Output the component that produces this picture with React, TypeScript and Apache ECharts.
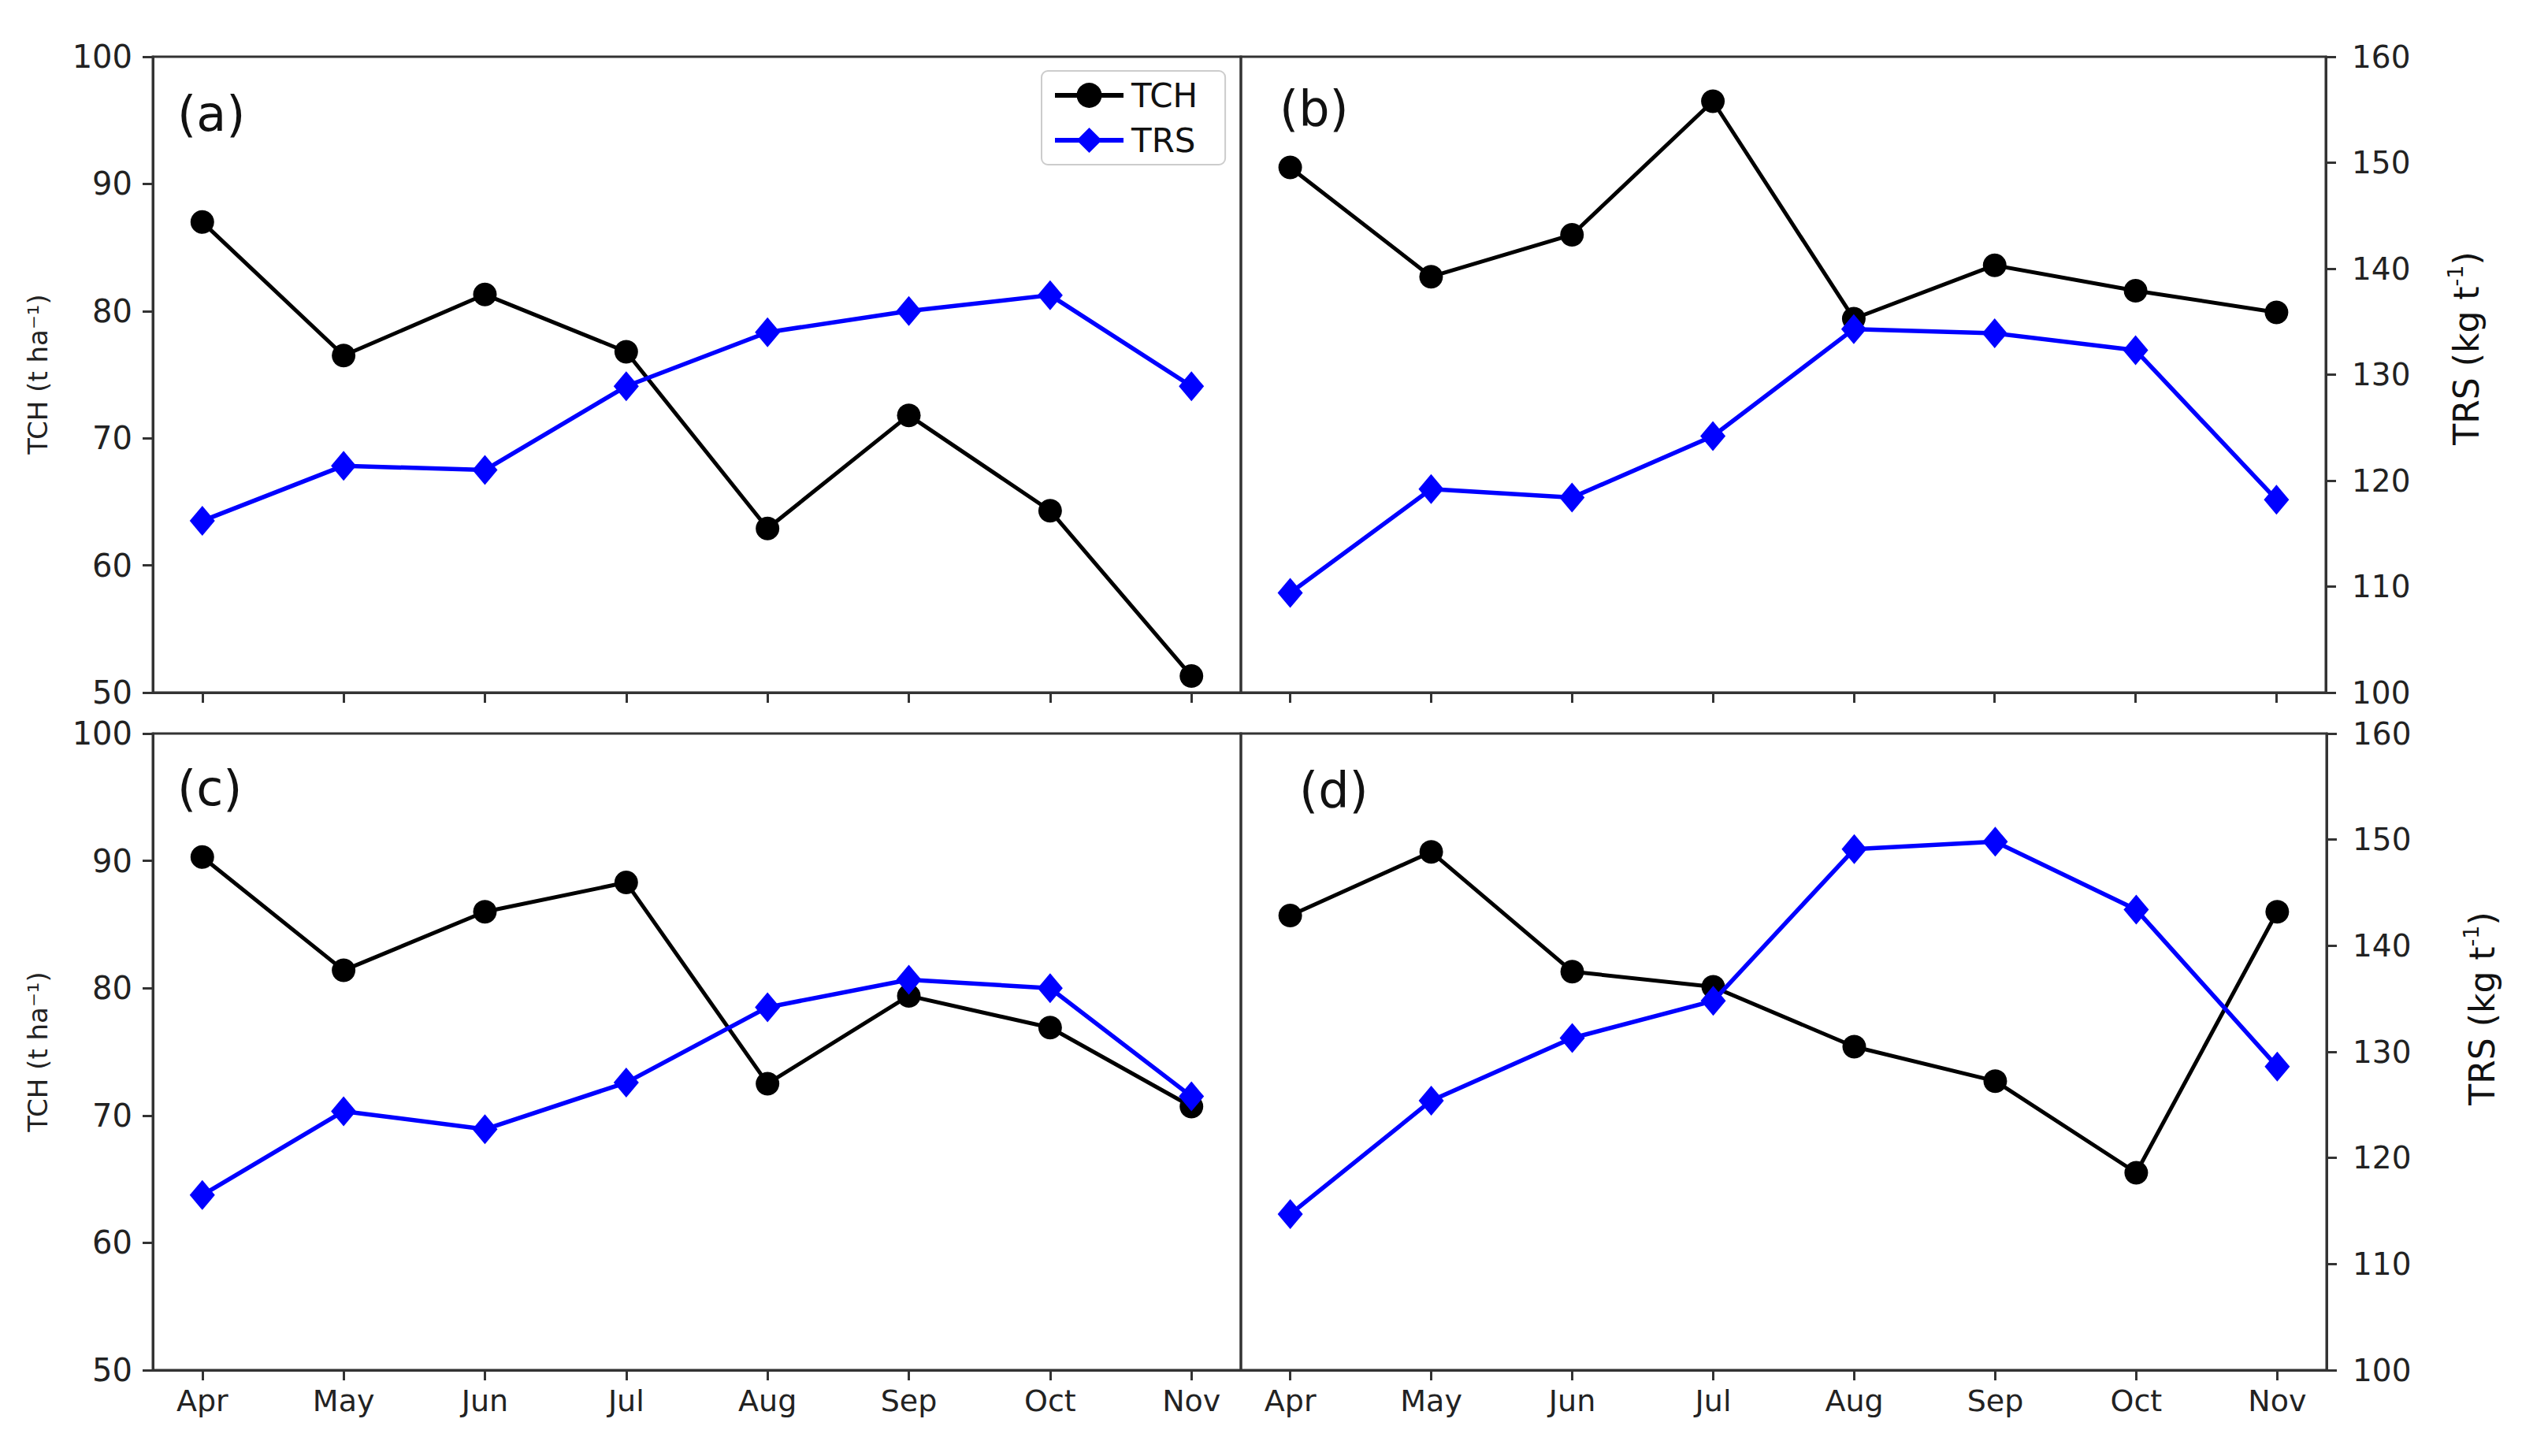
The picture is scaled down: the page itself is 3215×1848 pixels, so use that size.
import React, { useEffect, useRef } from "react";
import * as echarts from "echarts";

// ---- data ----
const months = ["Apr", "May", "Jun", "Jul", "Aug", "Sep", "Oct", "Nov"];
const tchA = [87.0, 76.5, 81.3, 76.8, 62.9, 71.8, 64.3, 51.3];
const trsA = [116.2, 121.4, 121.0, 128.9, 134.0, 136.0, 137.5, 128.9];
const tchB = [91.3, 82.7, 86.0, 96.5, 79.4, 83.6, 81.6, 79.9];
const trsB = [109.4, 119.2, 118.4, 124.2, 134.3, 133.9, 132.3, 118.2];
const tchC = [90.3, 81.4, 86.0, 88.3, 72.5, 79.4, 76.9, 70.7];
const trsC = [116.5, 124.4, 122.7, 127.1, 134.2, 136.8, 136.0, 125.8];
const tchD = [85.7, 90.7, 81.3, 80.1, 75.4, 72.7, 65.5, 86.0];
const trsD = [114.7, 125.4, 131.3, 134.8, 149.1, 149.8, 143.4, 128.6];
const panelLabels = ["(a)", "(b)", "(c)", "(d)"];
const seriesNames = ["TCH", "TRS"];
const tchRange = [50, 100];
const trsRange = [100, 160];

const FONT = "'DejaVu Sans', 'Noto Sans', sans-serif";
const AXIS = "#333";
const TXT = "#222";

const grids = [
  { left: 194, top: 72, width: 1381, height: 807 },
  { left: 1575, top: 72, width: 1377, height: 807 },
  { left: 194, top: 931, width: 1381, height: 808 },
  { left: 1575, top: 931, width: 1378, height: 808 },
];
const labelPos = [
  [225, 144],
  [1624, 137],
  [225, 1000],
  [1649, 1002],
];

const idx = months.map((_, i) => i);
const panels = [
  [tchA, trsA],
  [tchB, trsB],
  [tchC, trsC],
  [tchD, trsD],
];

function buildOption() {
  const grid = grids.map((g) => ({
    ...g,
    show: true,
    borderColor: AXIS,
    borderWidth: 3,
    backgroundColor: "transparent",
    containLabel: false,
  }));

  const xAxis = grids.map((_, i) => ({
    type: "value",
    gridIndex: i,
    min: -0.35,
    max: 7.35,
    axisLine: { show: true, onZero: false, lineStyle: { color: AXIS, width: 3 } },
    axisTick: {
      show: true,
      length: 13,
      customValues: idx,
      lineStyle: { color: AXIS, width: 3 },
    },
    axisLabel: {
      show: i >= 2,
      customValues: idx,
      formatter: (v: number) => months[Math.round(v)] ?? "",
      margin: 20,
      fontSize: 38,
      fontFamily: FONT,
      color: TXT,
    },
    splitLine: { show: false },
  }));

  const yAxis: any[] = [];
  grids.forEach((_, i) => {
    yAxis.push({
      type: "value",
      gridIndex: i,
      position: "left",
      min: tchRange[0],
      max: tchRange[1],
      interval: 10,
      show: i % 2 === 0,
      axisLine: { show: true, onZero: false, lineStyle: { color: AXIS, width: 3 } },
      axisTick: { show: true, length: 13, lineStyle: { color: AXIS, width: 3 } },
      axisLabel: { margin: 26, fontSize: 40, fontFamily: FONT, color: TXT },
      splitLine: { show: false },
    });
    yAxis.push({
      type: "value",
      gridIndex: i,
      position: "right",
      min: trsRange[0],
      max: trsRange[1],
      interval: 10,
      show: i % 2 === 1,
      axisLine: { show: true, onZero: false, lineStyle: { color: AXIS, width: 3 } },
      axisTick: { show: true, length: 13, lineStyle: { color: AXIS, width: 3 } },
      axisLabel: { margin: 33, fontSize: 39, fontFamily: FONT, color: TXT },
      splitLine: { show: false },
    });
  });

  const series: any[] = [];
  panels.forEach(([tch, trs], i) => {
    series.push({
      name: seriesNames[0],
      type: "line",
      xAxisIndex: i,
      yAxisIndex: 2 * i,
      data: tch.map((v, k) => [k, v]),
      symbol: "circle",
      symbolSize: 30,
      lineStyle: { color: "#000", width: 5 },
      itemStyle: { color: "#000" },
      z: 2,
    });
    series.push({
      name: seriesNames[1],
      type: "line",
      xAxisIndex: i,
      yAxisIndex: 2 * i + 1,
      data: trs.map((v, k) => [k, v]),
      symbol: "diamond",
      symbolSize: [32, 38],
      lineStyle: { color: "#0000ff", width: 5.5 },
      itemStyle: { color: "#0000ff" },
      z: 3,
    });
  });

  const graphic: any[] = [];
  panelLabels.forEach((t, i) => {
    graphic.push({
      type: "text",
      x: labelPos[i][0],
      y: labelPos[i][1],
      style: {
        text: t,
        fontSize: 62,
        fontFamily: FONT,
        fill: "#111",
        align: "left",
        verticalAlign: "middle",
      },
    });
  });
  [475, 1335].forEach((cy) => {
    graphic.push({
      type: "text",
      x: 48,
      y: cy,
      rotation: Math.PI / 2,
      style: {
        text: "TCH (t ha\u207B\u00B9)",
        fontSize: 34,
        fontFamily: FONT,
        fill: TXT,
        align: "center",
        verticalAlign: "middle",
      },
    });
  });
  [
    [3130, 442],
    [3150, 1280],
  ].forEach(([cx, cy]) => {
    graphic.push({
      type: "text",
      x: cx,
      y: cy,
      rotation: Math.PI / 2,
      style: {
        text: "TRS (kg t{sup|-1})",
        fontSize: 44,
        fontFamily: FONT,
        fill: "#111",
        lineHeight: 54,
        align: "center",
        verticalAlign: "middle",
        rich: {
          sup: {
            fontSize: 27,
            fontFamily: FONT,
            fill: "#111",
            lineHeight: 30,
            verticalAlign: "top",
          },
        },
      },
    });
  });

  return {
    animation: false,
    backgroundColor: "#fff",
    grid,
    xAxis,
    yAxis,
    legend: {
      data: seriesNames,
      orient: "vertical",
      left: 1322,
      top: 90,
      itemWidth: 87,
      itemHeight: 40,
      itemGap: 15,
      padding: [10, 35, 10, 14],
      borderColor: "#ccc",
      borderWidth: 2,
      borderRadius: 8,
      backgroundColor: "#fff",
      lineStyle: { width: 6 },
      textStyle: { fontSize: 42, color: "#111", fontFamily: FONT, padding: [0, 0, 0, 5] },
    },
    series,
    graphic,
  };
}

export default function App() {
  const ref = useRef<HTMLDivElement>(null);
  useEffect(() => {
    if (!ref.current) return;
    const chart = echarts.init(ref.current, undefined, { renderer: "svg" });
    chart.setOption(buildOption() as any);
    return () => chart.dispose();
  }, []);
  return (
    <div
      ref={ref}
      style={{ position: "fixed", left: 0, top: 0, width: 3215, height: 1848, background: "#fff" }}
    />
  );
}
